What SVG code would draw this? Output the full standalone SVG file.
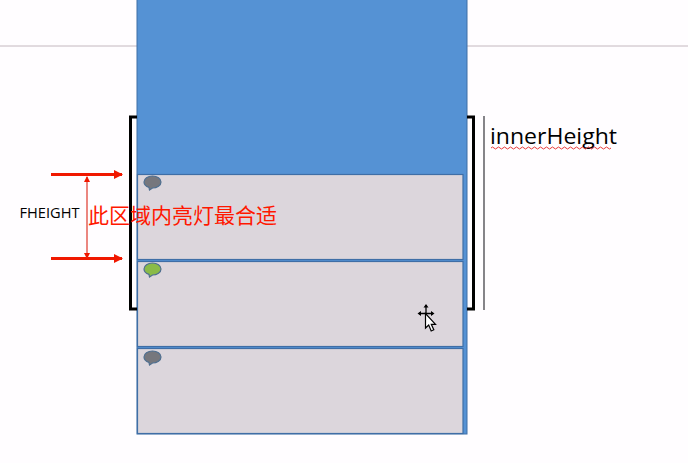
<svg xmlns="http://www.w3.org/2000/svg" width="688" height="463" viewBox="0 0 688 463">
<style>
.card{fill:#dcd6dc;stroke:#3f6ea6;stroke-width:1.2}
.bk{fill:none;stroke:#000;stroke-width:3}
.red{stroke:#f01800;stroke-width:3;fill:none}
.thin{stroke:#e0483c;stroke-width:1.3;fill:none}
.bub{stroke:#4f6f90;stroke-width:1.2}
.lat{font-family:"Open Sans","Noto Sans",sans-serif;fill:#000}
</style>
<defs>
<marker id="ah" markerUnits="userSpaceOnUse" markerWidth="10" markerHeight="10" refX="8" refY="4.500" orient="auto"><path d="M0 0L9 4.500L0 9Z" fill="#f01800"/></marker>
<marker id="as" markerUnits="userSpaceOnUse" markerWidth="7" markerHeight="7" refX="5" refY="3" orient="auto-start-reverse"><path d="M0 0L6 3L0 6Z" fill="#f01800"/></marker>
<path id="b" d="M144 182a8.500 6 0 1 1 8.500 6l-3 2l-0.500-2.600a8.500 6 0 0 1-5-5.400Z"/>
</defs>
<rect width="688" height="463" fill="#fffdff"/>
<line x1="0" y1="46" x2="688" y2="46" stroke="#c4b8bf" stroke-width="1"/>
<g id="panel"><rect x="137" y="-2" width="330" height="436" fill="#5592d4" stroke="#3f6ea6" stroke-width="1"/></g>
<g id="card-1"><rect class="card" x="137.500" y="174.500" width="325.500" height="85"/><use href="#b" class="bub" fill="#76777d"/></g>
<g id="card-2"><rect class="card" x="137.500" y="261.500" width="325.500" height="85"/><use href="#b" y="87" class="bub" fill="#8abb48"/></g>
<g id="card-3"><rect class="card" x="137.500" y="348.500" width="325.500" height="85"/><use href="#b" y="175" class="bub" fill="#76777d"/></g>
<g id="connectors">
<path class="bk" d="M137 117H130.500V309H137"/>
<path class="bk" d="M467 117H473.500V309H467"/>
<line x1="484" y1="116" x2="484" y2="310" stroke="#222228" stroke-width="1.100"/>
<line class="red" x1="51" y1="174.500" x2="122" y2="174.500" marker-end="url(#ah)"/>
<line class="red" x1="51" y1="258.500" x2="122" y2="258.500" marker-end="url(#ah)"/>
<line class="thin" x1="87" y1="177" x2="87" y2="258" marker-start="url(#as)" marker-end="url(#as)"/>
</g>
<text class="lat" x="490" y="144" font-size="22" textLength="127" lengthAdjust="spacingAndGlyphs">innerHeight</text>
<path d="M491 148q1.500-2 3 0t3 0t3 0t3 0t3 0t3 0t3 0t3 0t3 0t3 0t3 0t3 0t3 0t3 0t3 0t3 0t3 0t3 0t3 0t3 0t3 0t3 0t3 0t3 0t3 0t3 0t3 0t3 0t3 0t3 0t3 0t3 0t3 0t3 0t3 0t3 0t3 0t3 0t3 0t3 0" fill="none" stroke="#e83a3a" stroke-width="1"/>
<text class="lat" x="19.500" y="218" font-size="14" textLength="60" lengthAdjust="spacingAndGlyphs">FHEIGHT</text>
<text x="88" y="223" font-size="21" fill="#ff1800" font-family="'Noto Sans CJK SC',sans-serif">此区域内亮灯最合适</text>
<g id="cursor" stroke-linejoin="miter">
<path d="M426 305v17M419 313.500h14" stroke="#000" stroke-width="1.300"/>
<path d="M426 304l-2.500 3.500h5ZM417.500 313.500l3.500-2.500v5ZM434.500 313.500l-3.500-2.500v5Z" fill="#000"/>
<path d="M425.500 313.500V328l3.200-3l2.500 6l2.600-1.200l-2.500-5.500h4.200Z" fill="#fff" stroke="#000" stroke-width="1.200"/>
</g>
</svg>
